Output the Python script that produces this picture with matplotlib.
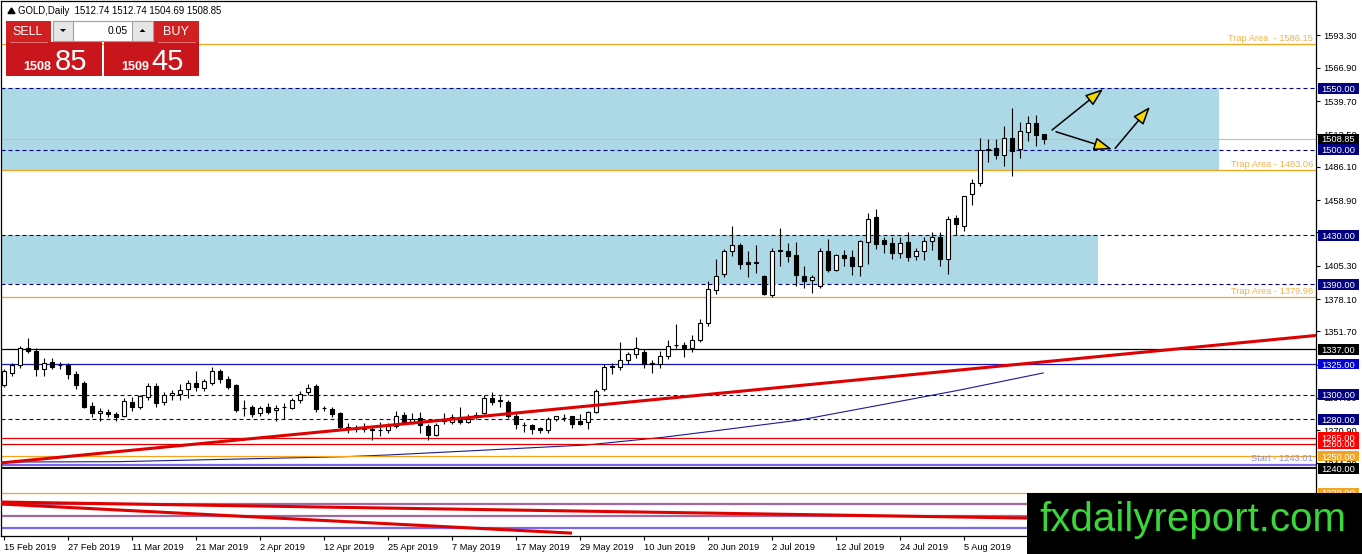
import numpy as np
import matplotlib
matplotlib.use("Agg")
import matplotlib.pyplot as plt
from matplotlib.patches import Rectangle, Polygon

plt.rcParams['font.family'] = ['Liberation Sans', 'DejaVu Sans']

# GOLD daily candles, 15 Feb 2019 .. 19 Aug 2019
opens = [1308.0, 1318.0, 1324.0, 1338.0, 1336.0, 1321.0, 1327.0, 1324.2, 1324.0, 1317.0,
         1310.0, 1291.0, 1285.0, 1286.0, 1284.0, 1283.0, 1294.0, 1290.0, 1298.0, 1307.0,
         1294.0, 1299.6, 1301.0, 1304.5, 1310.0, 1305.6, 1310.0, 1319.3, 1313.2, 1307.8,
         1289.2, 1290.0, 1285.3, 1290.0, 1287.3, 1290.2, 1289.5, 1295.5, 1302.3, 1307.0,
         1289.2, 1288.2, 1285.0, 1274.0, 1271.7, 1273.0, 1272.0, 1271.2, 1270.9, 1274.4,
         1283.7, 1277.1, 1281.0, 1274.4, 1267.3, 1280.0, 1277.8, 1282.0, 1278.0, 1281.8,
         1285.3, 1297.0, 1295.2, 1294.0, 1283.0, 1275.5, 1275.0, 1272.7, 1270.9, 1280.4,
         1281.2, 1282.4, 1279.0, 1277.7, 1285.9, 1304.5, 1323.2, 1323.0, 1328.3, 1333.3,
         1335.0, 1325.7, 1324.7, 1331.6, 1340.4, 1340.6, 1337.8, 1344.7, 1358.4, 1385.8,
         1398.6, 1417.7, 1422.0, 1408.4, 1407.8, 1396.7, 1381.6, 1417.5, 1417.2, 1413.9,
         1396.7, 1393.9, 1388.5, 1417.2, 1402.2, 1413.9, 1412.3, 1404.9, 1424.8, 1445.0,
         1426.2, 1423.5, 1415.8, 1424.6, 1413.0, 1417.2, 1425.4, 1428.9, 1410.9, 1444.0,
         1437.7, 1463.7, 1472.7, 1499.8, 1501.1, 1495.7, 1509.6, 1500.6, 1514.2, 1521.6,
         1512.74]
highs = [1321.0, 1326.0, 1340.0, 1346.0, 1338.0, 1330.0, 1330.0, 1327.0, 1326.0, 1319.0,
         1311.0, 1294.0, 1289.0, 1288.0, 1286.0, 1297.0, 1298.0, 1300.0, 1310.0, 1310.0,
         1302.0, 1304.0, 1309.0, 1312.0, 1319.0, 1313.0, 1323.0, 1321.0, 1315.0, 1309.0,
         1296.0, 1292.0, 1291.0, 1293.0, 1292.0, 1293.0, 1297.0, 1303.0, 1309.0, 1309.0,
         1291.0, 1290.0, 1286.0, 1277.0, 1275.0, 1277.0, 1274.0, 1278.0, 1277.0, 1287.0,
         1286.0, 1285.0, 1286.0, 1276.0, 1277.0, 1285.0, 1284.0, 1290.0, 1284.0, 1286.0,
         1300.0, 1302.0, 1299.0, 1296.0, 1286.0, 1278.0, 1276.0, 1274.0, 1282.0, 1283.0,
         1284.0, 1283.0, 1284.0, 1287.0, 1305.0, 1325.0, 1326.0, 1343.0, 1335.0, 1347.0,
         1337.0, 1328.0, 1336.0, 1345.0, 1358.0, 1343.0, 1349.0, 1362.0, 1393.0, 1410.4,
         1419.0, 1437.7, 1424.0, 1417.0, 1422.0, 1398.0, 1420.0, 1436.3, 1424.0, 1425.0,
         1405.0, 1398.0, 1420.0, 1427.0, 1415.0, 1418.0, 1418.0, 1426.0, 1448.0, 1451.4,
         1429.0, 1429.0, 1429.0, 1432.8, 1420.0, 1429.0, 1433.0, 1433.0, 1446.0, 1447.0,
         1462.3, 1476.0, 1509.5, 1509.0, 1509.0, 1518.9, 1534.2, 1522.8, 1527.5, 1528.3,
         1512.74]
lows = [1306.0, 1315.0, 1322.0, 1334.0, 1315.0, 1315.0, 1321.0, 1321.0, 1313.0, 1305.0,
        1289.0, 1282.0, 1279.0, 1282.0, 1279.0, 1282.0, 1287.0, 1288.0, 1296.0, 1290.0,
        1292.0, 1296.0, 1296.0, 1297.0, 1303.0, 1303.0, 1308.0, 1310.0, 1305.0, 1286.0,
        1283.0, 1282.0, 1283.0, 1284.0, 1278.5, 1280.0, 1288.0, 1293.0, 1300.0, 1286.0,
        1287.0, 1282.0, 1271.0, 1269.0, 1270.0, 1270.0, 1263.0, 1266.0, 1269.0, 1273.0,
        1276.0, 1276.0, 1269.0, 1263.0, 1266.0, 1276.0, 1276.0, 1276.0, 1277.0, 1280.0,
        1284.0, 1292.0, 1290.0, 1281.0, 1272.0, 1270.0, 1268.0, 1268.5, 1269.0, 1279.0,
        1279.0, 1273.0, 1275.0, 1272.0, 1285.0, 1303.0, 1317.0, 1320.0, 1325.0, 1330.0,
        1322.0, 1318.0, 1322.0, 1329.0, 1338.0, 1331.0, 1335.0, 1343.0, 1356.0, 1382.0,
        1396.0, 1413.0, 1403.0, 1396.0, 1399.0, 1381.0, 1380.0, 1405.0, 1408.0, 1388.5,
        1387.0, 1383.0, 1387.0, 1400.0, 1401.0, 1405.0, 1398.0, 1397.0, 1407.0, 1419.0,
        1416.0, 1411.0, 1412.0, 1409.0, 1410.0, 1410.0, 1418.0, 1405.0, 1398.9, 1430.0,
        1434.0, 1455.0, 1470.6, 1489.6, 1492.0, 1486.4, 1478.7, 1493.4, 1506.8, 1503.0,
        1504.69]
closes = [1319.0, 1324.0, 1338.0, 1336.0, 1321.0, 1326.0, 1323.0, 1324.0, 1317.0, 1308.0,
          1290.0, 1285.0, 1287.0, 1284.0, 1282.0, 1295.0, 1290.0, 1299.0, 1307.0, 1293.0,
          1300.0, 1301.5, 1303.5, 1310.0, 1306.0, 1311.0, 1319.3, 1313.2, 1306.7, 1287.3,
          1289.0, 1284.5, 1289.5, 1286.0, 1289.3, 1290.0, 1295.5, 1301.0, 1305.6, 1288.2,
          1289.0, 1284.0, 1273.6, 1272.0, 1273.0, 1272.0, 1271.0, 1271.0, 1274.4, 1283.0,
          1277.1, 1280.4, 1275.5, 1267.3, 1275.5, 1278.5, 1282.0, 1277.8, 1280.0, 1283.7,
          1297.0, 1294.0, 1295.0, 1283.0, 1276.0, 1275.0, 1272.2, 1270.9, 1280.4, 1282.4,
          1281.0, 1276.3, 1276.3, 1285.9, 1303.0, 1323.0, 1323.0, 1328.0, 1333.3, 1337.8,
          1325.5, 1325.5, 1331.8, 1339.8, 1340.6, 1337.8, 1344.7, 1358.4, 1386.6, 1397.3,
          1417.7, 1422.0, 1407.0, 1406.8, 1407.6, 1382.2, 1417.0, 1417.7, 1413.6, 1397.5,
          1392.6, 1395.8, 1417.2, 1402.2, 1413.9, 1412.0, 1404.9, 1425.4, 1443.7, 1423.2,
          1422.7, 1415.8, 1423.5, 1412.5, 1417.2, 1425.4, 1428.9, 1410.9, 1443.2, 1439.1,
          1462.3, 1472.7, 1499.8, 1500.0, 1495.7, 1509.6, 1499.2, 1515.0, 1521.6, 1512.1,
          1508.85]

date_labels = ["15 Feb 2019", "27 Feb 2019", "11 Mar 2019", "21 Mar 2019", "2 Apr 2019",
               "12 Apr 2019", "25 Apr 2019", "7 May 2019", "17 May 2019", "29 May 2019",
               "10 Jun 2019", "20 Jun 2019", "2 Jul 2019", "12 Jul 2019", "24 Jul 2019",
               "5 Aug 2019"]

# moving average, points (bar, price)
ma_bars = [-0.5, 14.25, 42.75, 48.1, 72.75, 82.4, 89.75, 99.5, 109.5, 119.5, 129.9]
ma_vals = [1245.1, 1245.4, 1249.5, 1250.9, 1259.0, 1265.3, 1271.3, 1279.4, 1291.6, 1303.9, 1317.8]

# trend lines (bar0, bar1), (price0, price1)
trend_bars = [(-0.5, 164.0), (-0.5, 164.0), (-0.5, 71.0)]
trend_prices = [(1244.3, 1348.4), (1212.5, 1195.7), (1210.9, 1187.1)]

# boxes
zone_lows = [1483.5, 1390.0]
zone_highs = [1550.5, 1430.0]
zone_ends = [151.9, 136.75]

dash_levels = [1550.0, 1500.0, 1430.0, 1390.0, 1300.0, 1280.0]
trap_levels = [1586.15, 1483.06, 1379.96]
trap_texts = ["Trap Area  - 1586.15", "Trap Area - 1483.06", "Trap Area - 1379.96"]
line_levels = [1337.0, 1325.0, 1265.0, 1260.0, 1250.0, 1243.01, 1240.0, 1220.0,
               1210.9, 1201.1, 1191.5]
line_colors = ['black', '#1414c0', '#e00000', '#e00000', '#f4a520', '#7b68ee', 'black',
               '#f4a520', '#a06a9e', '#a06a9e', '#7b68ee']
line_widths = [0.9, 0.9, 0.9, 0.9, 0.9, 1.6, 1.3, 0.9, 1.6, 1.6, 1.6]
start_level = 1243.01
bid = 1508.85
ask = 1509.45

price_ticks = [1593.30, 1566.90, 1539.70, 1512.50, 1486.10, 1458.90, 1432.50, 1405.30,
               1378.10, 1351.70, 1324.50, 1297.50, 1270.90, 1244.30, 1217.70, 1190.50]

tag_levels = [1550.00, 1508.85, 1500.00, 1430.00, 1390.00, 1337.00, 1325.00, 1300.00,
              1280.00, 1260.00, 1265.00, 1250.00, 1240.00, 1220.00]
tag_colors = ['#000080', 'black', '#000080', '#000080', '#000080', 'black', '#0000dd',
              '#000080', '#000080', '#ff0000', '#ff0000', '#f4a520', 'black', '#f4a520']

arrow_starts = [(131.0, 1516.0), (131.5, 1514.6), (138.9, 1501.1)]
arrow_tips = [(137.4, 1549.5), (138.5, 1500.3), (143.25, 1535.0)]

W, H = 1362, 554
fig = plt.figure(figsize=(W / 100, H / 100), dpi=100)
fig.patch.set_facecolor('white')
ax = fig.add_axes([1 / W, 18 / H, 1315 / W, 535 / H])
ax.set_xlim(-0.375, 164.0)
ax.set_ylim(1184.76, 1621.3)

# zones
for lo, hi, end in zip(zone_lows, zone_highs, zone_ends):
    ax.add_patch(Rectangle((-5, lo), end + 5, hi - lo, facecolor='#add8e6',
                           edgecolor='none', zorder=0.5))

ax.plot(ma_bars, ma_vals, color='#1a1a9a', lw=0.8, zorder=1)

for lvl in dash_levels:
    ax.axhline(lvl, color='#000080', lw=0.8, dashes=(3.6, 2.7), zorder=1.5)
for lvl, txt in zip(trap_levels, trap_texts):
    ax.axhline(lvl, color='#f4a520', lw=0.9, zorder=1.5)
    ax.text(0.9977, lvl + 1.0, txt, transform=ax.get_yaxis_transform(), ha='right',
            va='bottom', fontsize=6.7, color='#f2b24a', zorder=1.6)
for lvl, col, lw in zip(line_levels, line_colors, line_widths):
    ax.axhline(lvl, color=col, lw=lw, zorder=1.5)
ax.text(0.9977, start_level + 1.0, "Start - 1243.01", transform=ax.get_yaxis_transform(),
        ha='right', va='bottom', fontsize=6.7, color='#8c8cdc', zorder=1.6)
ax.axhline(bid, color='#c0c0c0', lw=0.8, zorder=1.4)

# candles
o = np.array(opens)
c = np.array(closes)
x = np.arange(len(o))
up = c >= o
ax.vlines(x, lows, highs, color='black', lw=0.8, zorder=3)
ax.bar(x, np.maximum(np.abs(c - o), 0.35), bottom=np.minimum(o, c), width=0.56,
       color=np.where(up, 'white', 'black'), edgecolor='black', linewidth=0.8, zorder=3.1)

# trend lines
for (b0, b1), (p0, p1) in zip(trend_bars, trend_prices):
    ax.plot([b0, b1], [p0, p1], color='#e00000', lw=2.2, zorder=3.5, solid_capstyle='butt')

# arrows
for (x0, y0), (x1, y1) in zip(arrow_starts, arrow_tips):
    ax.annotate('', xy=(x1, y1), xytext=(x0, y0),
                arrowprops=dict(arrowstyle='-|>,head_length=1.1,head_width=0.4',
                                fc='#f5d800', ec='black', lw=1.1, shrinkA=0, shrinkB=0,
                                mutation_scale=10), zorder=4)

# axes look
for s in ax.spines.values():
    s.set_color('black')
    s.set_linewidth(0.9)
ax.yaxis.tick_right()
ax.set_yticks(price_ticks)
ax.set_yticklabels([f"{v:.2f}" for v in price_ticks])
ax.tick_params(axis='y', length=3, pad=2, labelsize=6.7, colors='black')
ax.set_xticks(np.arange(0, 8 * len(date_labels), 8))
ax.set_xticklabels(date_labels, ha='left')
ax.tick_params(axis='x', length=3, pad=2, labelsize=6.7, colors='black')

# price tags on the scale
ytr = ax.get_yaxis_transform()
for lvl, col in zip(tag_levels, tag_colors):
    ax.add_patch(Rectangle((1 + 2 / 1315, lvl - 4.3), 41 / 1315, 8.6, transform=ytr,
                           facecolor=col, edgecolor='none', clip_on=False, zorder=5))
    ax.text(1 + 22.5 / 1315, lvl, f"{lvl:.2f}", transform=ytr, ha='center',
            va='center_baseline', fontsize=6.7, color='white', clip_on=False, zorder=6)

# overlay in pixels: header, trade panel, logo
ov = fig.add_axes([0, 0, 1, 1], zorder=10)
ov.set_xlim(0, W)
ov.set_ylim(H, 0)
ov.axis('off')
ov.patch.set_alpha(0)

ov.add_patch(Polygon([(8, 13.5), (15, 13.5), (11.5, 8)], closed=True, color='black'))
ov.text(18, 14, "GOLD,Daily  1512.74 1512.74 1504.69 1508.85", fontsize=6.9,
        va='baseline', ha='left', color='black')

red = '#c8161c'
ov.add_patch(Rectangle((6, 21), 45, 21, facecolor='#d21f22', edgecolor='none'))
ov.add_patch(Rectangle((154, 21), 45, 21, facecolor='#d21f22', edgecolor='none'))
ov.add_patch(Rectangle((6, 42), 96, 34, facecolor=red, edgecolor='none'))
ov.add_patch(Rectangle((104, 42), 95, 34, facecolor=red, edgecolor='none'))
ov.plot([10, 47], [41.5, 41.5], color='#f08080', lw=0.6)
ov.plot([158, 195], [41.5, 41.5], color='#f08080', lw=0.6)
ov.add_patch(Rectangle((53, 21), 100, 20, facecolor='white', edgecolor='#a0a0a0', lw=0.8))
ov.add_patch(Rectangle((53, 21), 20, 20, facecolor='#e6e6e6', edgecolor='#a0a0a0', lw=0.8))
ov.add_patch(Rectangle((132, 21), 21, 20, facecolor='#e6e6e6', edgecolor='#a0a0a0', lw=0.8))
ov.add_patch(Polygon([(60, 29), (66, 29), (63, 32)], closed=True, color='black', lw=0))
ov.add_patch(Polygon([(139.5, 32), (145.5, 32), (142.5, 29)], closed=True, color='black', lw=0))
ov.text(128, 34.5, "0.05", fontsize=7.5, ha='right', va='baseline', color='black')
ov.text(28, 35, "SELL", fontsize=9, ha='center', va='baseline', color='white')
ov.text(176, 35, "BUY", fontsize=9, ha='center', va='baseline', color='white')
ov.text(37, 70, f"{int(bid)}", fontsize=9, ha='center', va='baseline', color='white',
        fontweight='bold')
ov.text(71, 70, f"{round(bid % 1 * 100):02d}", fontsize=21, ha='center', va='baseline',
        color='white')
ov.text(135, 70, f"{int(ask)}", fontsize=9, ha='center', va='baseline', color='white',
        fontweight='bold')
ov.text(168, 70, f"{round(ask % 1 * 100):02d}", fontsize=21, ha='center', va='baseline',
        color='white')

ov.add_patch(Rectangle((1027, 493), W - 1027, H - 493, facecolor='black', edgecolor='none'))
ov.text(1193, 531, "fxdailyreport.com", fontsize=29, ha='center', va='baseline',
        color='#3ad63a')

fig.savefig('out.png', dpi=100)
